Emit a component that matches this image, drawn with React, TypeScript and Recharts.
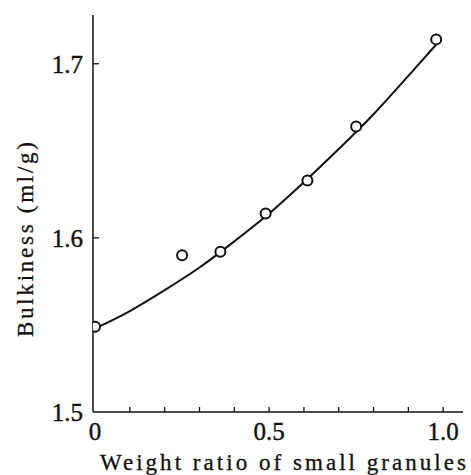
import { ComposedChart, Line, Scatter, XAxis, YAxis } from "recharts";

// fitted curve
const curveX = [0, 0.1, 0.2, 0.3, 0.4, 0.5, 0.6, 0.7, 0.8, 0.9, 0.98];
const curveY = [1.548, 1.558, 1.57, 1.583, 1.598, 1.614, 1.632, 1.651, 1.671, 1.693, 1.711];

// measured points (open circles)
const pointX = [0, 0.25, 0.36, 0.49, 0.61, 0.75, 0.98];
const pointY = [1.549, 1.59, 1.592, 1.614, 1.633, 1.664, 1.714];

const xTicks = [0, 0.1, 0.2, 0.3, 0.4, 0.5, 0.6, 0.7, 0.8, 0.9, 1.0];
const xLabels: Record<string, string> = { "0": "0", "0.5": "0.5", "1": "1.0" };
const yTicks = [1.5, 1.6, 1.7];

const FONT = '"Liberation Serif", "DejaVu Serif", serif';
const INK = "#111";

const curveData = curveX.map((x, i) => ({ x, y: curveY[i] }));
const pointData = pointX.map((x, i) => ({ x, y: pointY[i] }));

function XTick(props: any) {
  const { x, y, payload } = props;
  const label = xLabels[String(payload.value)];
  return (
    <g>
      {payload.value > 0 && (
        <line x1={x} y1={y} x2={x} y2={y - 5} stroke={INK} strokeWidth={1.3} />
      )}
      {label && (
        <text x={x} y={y + 28} textAnchor="middle" fontFamily={FONT} fontSize={25}
          fill={INK} stroke={INK} strokeWidth={0.4}>
          {label}
        </text>
      )}
    </g>
  );
}

function YTick(props: any) {
  const { x, y, payload } = props;
  return (
    <g>
      {payload.value > 1.5 && (
        <line x1={x} y1={y} x2={x + 6} y2={y} stroke={INK} strokeWidth={1.3} />
      )}
      <text x={x - 10} y={y + 9} textAnchor="end" fontFamily={FONT} fontSize={25}
        fill={INK} stroke={INK} strokeWidth={0.4}>
        {payload.value.toFixed(1)}
      </text>
    </g>
  );
}

function Dot(props: any) {
  const { cx, cy } = props;
  return <circle cx={cx} cy={cy} r={5} fill="#fff" stroke={INK} strokeWidth={2} />;
}

export default function App() {
  return (
    <div style={{ position: "absolute", left: 0, top: 0, background: "#fff" }}>
      <ComposedChart
        width={471}
        height={475}
        margin={{ top: 15, right: 8, bottom: 0, left: 0 }}
      >
        <XAxis
          type="number"
          dataKey="x"
          domain={[-0.006, 1.057]}
          ticks={xTicks}
          allowDataOverflow
          tickSize={0}
          tickMargin={0}
          tickLine={false}
          tick={<XTick />}
          height={63}
          axisLine={{ stroke: INK, strokeWidth: 1.5 }}
        />
        <YAxis
          type="number"
          dataKey="y"
          domain={[1.5, 1.728]}
          ticks={yTicks}
          allowDataOverflow
          tickSize={0}
          tickMargin={0}
          tickLine={false}
          tick={<YTick />}
          width={93}
          axisLine={{ stroke: INK, strokeWidth: 1.5 }}
        />
        <Line
          data={curveData}
          dataKey="y"
          type="monotone"
          stroke={INK}
          strokeWidth={2}
          dot={false}
          activeDot={false}
          isAnimationActive={false}
        />
        <Scatter data={pointData} dataKey="y" shape={<Dot />} isAnimationActive={false} />
        <text
          x={100}
          y={470}
          fontFamily={FONT}
          fontSize={23}
          fill={INK}
          stroke={INK}
          strokeWidth={0.3}
          textLength={366}
          lengthAdjust="spacing"
        >
          Weight ratio of small granules
        </text>
        <text
          transform="translate(33, 337) rotate(-90)"
          fontFamily={FONT}
          fontSize={23}
          fill={INK}
          stroke={INK}
          strokeWidth={0.3}
          textLength={195}
          lengthAdjust="spacing"
        >
          Bulkiness (ml/g)
        </text>
      </ComposedChart>
    </div>
  );
}
